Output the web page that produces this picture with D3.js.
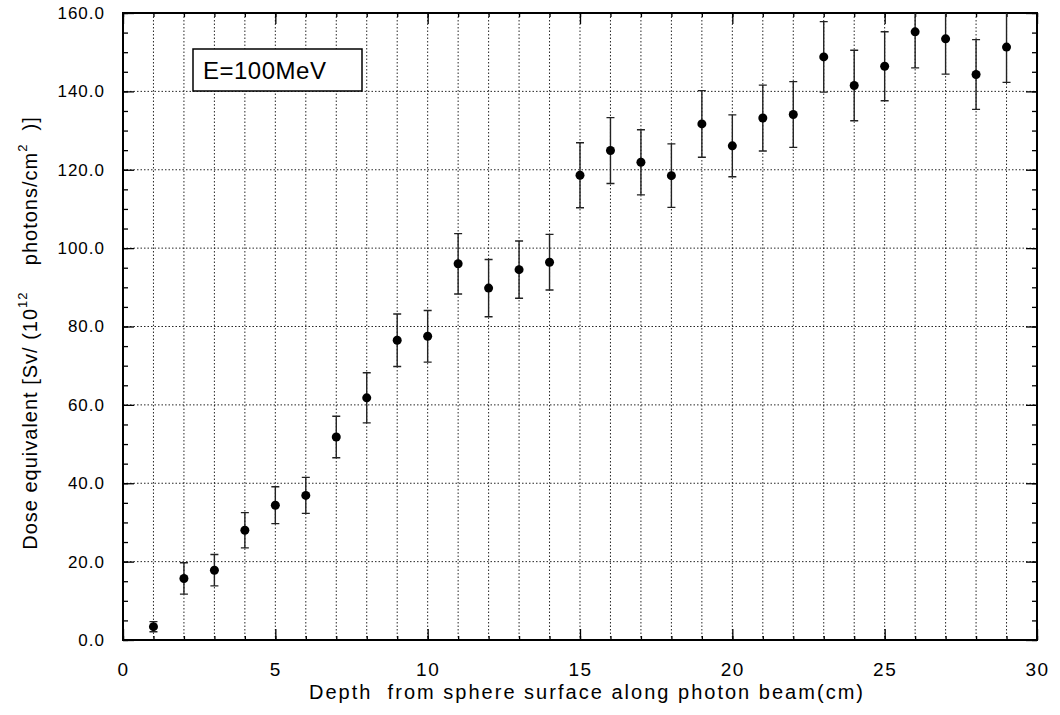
<!DOCTYPE html>
<html>
<head>
<meta charset="utf-8">
<script src="https://cdn.jsdelivr.net/npm/d3@7"></script>
<style>
  body { margin: 0; background: #fff; }
  svg { display: block; font-family: "Liberation Sans", Arial, Helvetica, sans-serif; }
</style>
</head>
<body>
<div id="chart"></div>
<script>
// depth (cm) along the beam, dose value and its error bar half-width
const depth = [1, 2, 3, 4, 5, 6, 7, 8, 9, 10, 11, 12, 13, 14, 15, 16, 17, 18, 19, 20, 21, 22, 23, 24, 25, 26, 27, 28, 29];
const dose = [3.4, 15.7, 17.8, 28.0, 34.4, 36.9, 51.8, 61.8, 76.5, 77.5, 96.0, 89.8, 94.5, 96.4, 118.6, 124.9, 121.9, 118.5, 131.7, 126.1, 133.2, 134.1, 148.8, 141.5, 146.4, 155.2, 153.4, 144.3, 151.3];
const doseErr = [1.3, 4.0, 4.0, 4.5, 4.7, 4.6, 5.3, 6.4, 6.7, 6.6, 7.7, 7.3, 7.3, 7.1, 8.3, 8.4, 8.3, 8.1, 8.5, 7.9, 8.4, 8.4, 9.0, 9.0, 8.8, 9.2, 9.0, 8.9, 9.0];

const xTickValues = [0, 5, 10, 15, 20, 25, 30];
const yTickValues = [0, 20, 40, 60, 80, 100, 120, 140, 160];
const energyLabel = "E=100MeV";
const xLabel = "Depth  from sphere surface along photon beam(cm)";

const config = {
  width: 1060,
  height: 715,
  margin: {top: 13, right: 23, bottom: 75, left: 123},
  dot: {radius: 4.5},
  capWidth: 8
};

const W = config.width, H = config.height, m = config.margin;

const x = d3.scaleLinear([0, 30], [m.left, W - m.right]);
const y = d3.scaleLinear([0, 160], [H - m.bottom, m.top]);

const svg = d3.select("#chart")
  .append("svg")
  .attr("width", W)
  .attr("height", H)
  .attr("viewBox", [0, 0, W, H]);

svg.append("defs").append("clipPath")
  .attr("id", "plot-clip")
  .append("rect")
  .attr("x", m.left)
  .attr("y", m.top)
  .attr("width", W - m.left - m.right)
  .attr("height", H - m.top - m.bottom);

// dotted grid
const grid = svg.append("g")
  .attr("stroke", "#000")
  .attr("stroke-width", 1)
  .attr("stroke-dasharray", "1.5,2")
  .attr("stroke-opacity", 0.85);

grid.selectAll("line.v")
  .data(d3.range(1, 30))
  .join("line")
  .attr("class", "v")
  .attr("x1", d => x(d)).attr("x2", d => x(d))
  .attr("y1", m.top).attr("y2", H - m.bottom);

grid.selectAll("line.h")
  .data(yTickValues.slice(1, -1))
  .join("line")
  .attr("class", "h")
  .attr("x1", m.left).attr("x2", W - m.right)
  .attr("y1", d => y(d)).attr("y2", d => y(d));

// label box
svg.append("rect")
  .attr("x", 193).attr("y", 49)
  .attr("width", 169).attr("height", 42)
  .attr("fill", "#fff")
  .attr("stroke", "#000")
  .attr("stroke-width", 1.5);

svg.append("text")
  .attr("x", 203).attr("y", 79)
  .attr("font-size", 24)
  .attr("letter-spacing", 0.5)
  .text(energyLabel);

// axes: ticks pointing inward
const axisStyle = g => g.call(g => g.select(".domain").remove())
  .call(g => g.selectAll(".tick line").attr("stroke", "#000").attr("stroke-width", 1.3));

svg.append("g")
  .attr("transform", `translate(0,${H - m.bottom})`)
  .call(d3.axisBottom(x).tickValues(d3.range(0, 31)).tickSizeInner(-4).tickSizeOuter(0).tickFormat(""))
  .call(axisStyle);

svg.append("g")
  .attr("transform", `translate(0,${H - m.bottom})`)
  .call(d3.axisBottom(x).tickValues(xTickValues).tickSizeInner(-11).tickSizeOuter(0).tickPadding(23).tickFormat(d3.format("d")))
  .call(axisStyle)
  .call(g => g.selectAll("text")
    .attr("font-size", 19)
    .attr("letter-spacing", 1.5)
    .attr("fill", "#000"));

svg.append("g")
  .attr("transform", `translate(0,${m.top})`)
  .call(d3.axisTop(x).tickValues(d3.range(0, 31)).tickSizeInner(-4).tickSizeOuter(0).tickFormat(""))
  .call(axisStyle);

svg.append("g")
  .attr("transform", `translate(0,${m.top})`)
  .call(d3.axisTop(x).tickValues(xTickValues).tickSizeInner(-11).tickSizeOuter(0).tickFormat(""))
  .call(axisStyle);

svg.append("g")
  .attr("transform", `translate(${m.left},0)`)
  .call(d3.axisLeft(y).tickValues(d3.range(0, 161, 5)).tickSizeInner(-5).tickSizeOuter(0).tickFormat(""))
  .call(axisStyle);

svg.append("g")
  .attr("transform", `translate(${m.left},0)`)
  .call(d3.axisLeft(y).tickValues(yTickValues).tickSizeInner(-11).tickSizeOuter(0).tickPadding(18).tickFormat(d3.format(".1f")))
  .call(axisStyle)
  .call(g => g.selectAll("text")
    .attr("font-size", 17)
    .attr("letter-spacing", 1)
    .attr("fill", "#000"));

svg.append("g")
  .attr("transform", `translate(${W - m.right},0)`)
  .call(d3.axisRight(y).tickValues(d3.range(0, 161, 5)).tickSizeInner(-5).tickSizeOuter(0).tickFormat(""))
  .call(axisStyle);

svg.append("g")
  .attr("transform", `translate(${W - m.right},0)`)
  .call(d3.axisRight(y).tickValues(yTickValues).tickSizeInner(-11).tickSizeOuter(0).tickFormat(""))
  .call(axisStyle);

// frame
svg.append("rect")
  .attr("x", m.left).attr("y", m.top)
  .attr("width", W - m.left - m.right)
  .attr("height", H - m.top - m.bottom)
  .attr("fill", "none")
  .attr("stroke", "#000")
  .attr("stroke-width", 2);

// error bars + points
const I = d3.range(depth.length);
const marks = svg.append("g").attr("clip-path", "url(#plot-clip)");

marks.append("g")
  .attr("stroke", "#222")
  .attr("stroke-width", 1.4)
  .selectAll("path")
  .data(I)
  .join("path")
  .attr("fill", "none")
  .attr("d", i => {
    const cx = x(depth[i]), c = config.capWidth / 2;
    const y0 = y(dose[i] - doseErr[i]), y1 = y(dose[i] + doseErr[i]);
    return `M${cx},${y0}V${y1}M${cx - c},${y0}H${cx + c}M${cx - c},${y1}H${cx + c}`;
  });

marks.append("g")
  .selectAll("circle")
  .data(I)
  .join("circle")
  .attr("cx", i => x(depth[i]))
  .attr("cy", i => y(dose[i]))
  .attr("r", config.dot.radius)
  .attr("fill", "#000");

// axis titles
svg.append("text")
  .attr("x", 586)
  .attr("y", 699)
  .attr("font-size", 20)
  .attr("text-anchor", "middle")
  .attr("textLength", 554)
  .attr("lengthAdjust", "spacing")
  .style("white-space", "pre")
  .text(xLabel);

const yTitle = svg.append("text")
  .attr("transform", "translate(37,333) rotate(-90)")
  .attr("font-size", 20)
  .attr("letter-spacing", 1)
  .attr("text-anchor", "middle")
  .style("white-space", "pre");

yTitle.append("tspan").text("Dose equivalent [Sv/ (10");
yTitle.append("tspan").attr("font-size", 13).attr("dy", -10).text("12");
yTitle.append("tspan").attr("dy", 10).text("    photons/cm");
yTitle.append("tspan").attr("font-size", 13).attr("dy", -10).text("2");
yTitle.append("tspan").attr("dy", 10).text("  )]");
</script>
</body>
</html>
